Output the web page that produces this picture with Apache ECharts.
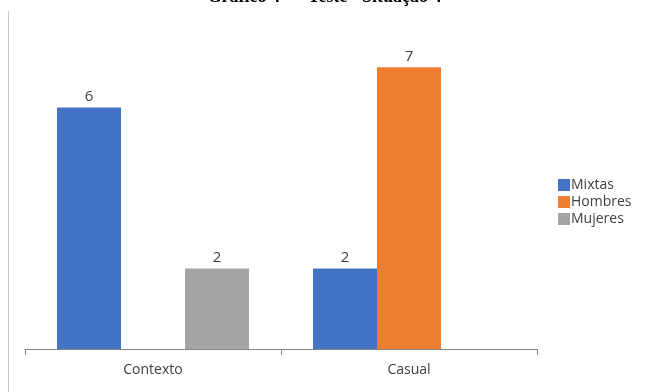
<!DOCTYPE html>
<html>
<head>
<meta charset="utf-8">
<script src="https://cdn.jsdelivr.net/npm/echarts@6/dist/echarts.min.js"></script>
<style>
  html, body { margin: 0; padding: 0; background: #fff; }
  #chart { width: 649px; height: 392px; }
</style>
</head>
<body>
<div id="chart"></div>
<script>
    /*数据源*/
    const categories = ['Contexto', 'Casual'];
    const mixtas = [6, 2];
    const hombres = [null, 7];
    const mujeres = [2, null];

    const chart = echarts.init(document.getElementById('chart'));

    const labelStyle = {
        show: true,
        position: 'top',
        distance: 3,
        color: '#404040',
        fontSize: 15,
        fontFamily: 'Open Sans'
    };

    const option = {
        animation: false,
        title: {
            text: 'Gráfico 4 – "Teste" Situação 4',
            left: 'center',
            top: -17,
            textStyle: {
                fontFamily: 'Liberation Serif',
                fontSize: 18,
                fontWeight: 'bold',
                color: '#000'
            }
        },
        legend: {
            orient: 'vertical',
            left: 553,
            top: 173,
            itemWidth: 12,
            itemHeight: 12,
            itemGap: 3,
            icon: 'rect',
            textStyle: { color: '#404040', fontSize: 14, fontFamily: 'Open Sans', padding: [0, 0, 0, -4] }
        },
        grid: { left: 25, right: 112, top: 27, bottom: 43 },
        xAxis: {
            type: 'category',
            data: categories,
            axisLine: { lineStyle: { color: '#868686', width: 1 } },
            axisTick: { show: true, length: 6, lineStyle: { color: '#868686' } },
            axisLabel: { color: '#404040', fontSize: 14, fontFamily: 'Open Sans', margin: 14 }
        },
        yAxis: {
            type: 'value',
            min: 0,
            max: 8,
            show: false,
            splitLine: { show: false }
        },
        graphic: [{
            type: 'line',
            shape: { x1: 8.5, y1: 11, x2: 8.5, y2: 392 },
            style: { stroke: '#c8c8c8', lineWidth: 1 }
        }],
        series: [
            { name: 'Mixtas', type: 'bar', data: mixtas, barGap: '0%', barCategoryGap: '25%',
              itemStyle: { color: '#4472C4' }, label: labelStyle },
            { name: 'Hombres', type: 'bar', data: hombres,
              itemStyle: { color: '#ED7D31' }, label: labelStyle },
            { name: 'Mujeres', type: 'bar', data: mujeres,
              itemStyle: { color: '#A5A5A5' }, label: labelStyle }
        ]
    };
    chart.setOption(option);
</script>
</body>
</html>
